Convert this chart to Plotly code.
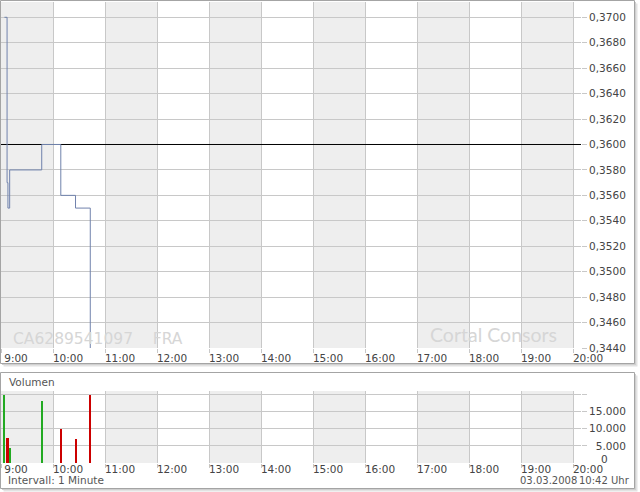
import plotly.graph_objects as go

# ---------------- data ----------------
trade_day = "2008-03-03"
trade_times = ["09:04", "09:07", "09:08", "09:10", "09:47", "10:09", "10:26", "10:43"]
prices = [0.3700, 0.3570, 0.3550, 0.3580, 0.3600, 0.3560, 0.3550, 0.3400]
volumes = [20000, 7200, 7200, 4300, 18000, 10000, 7000, 20000]
prev_close = 0.3600

hour_labels = ["9:00", "10:00", "11:00", "12:00", "13:00", "14:00", "15:00",
               "16:00", "17:00", "18:00", "19:00", "20:00"]
vol_tick_vals = [5000, 10000, 15000, 20000]
vol_tick_text = ["\u20075.000", "10.000", "15.000", ""]

isin_text = "CA6289541097    FRA"
brand_text = "Cortal Consors"
date_text = "03.03.2008"
time_text = "10:42 Uhr"
interval_text = "Intervall: 1 Minute"
volume_title = "Volumen"

# ---------------- derived ----------------
W, H = 640, 492
x_times = [f"{trade_day} {t}" for t in trade_times]
x_start = f"{trade_day} 09:00"
x_end = f"{trade_day} 20:09:14"
hour_vals = [f"{trade_day} {h:02d}:00" for h in range(9, 21)]

UP, DOWN = "#22AA22", "#CC0000"
vol_colors = []
prev = prev_close
for p in prices:
    vol_colors.append(UP if p >= prev else DOWN)
    prev = p

def px_x(x):
    return x / W

def px_y(y):
    return 1 - y / H

FONT = "DejaVu Sans"
GRID = "#C8C8C8"
BAND = "#EEEEEE"
TXT = "#444444"

fig = go.Figure()

# reference (previous close) line
fig.add_trace(go.Scatter(x=[x_start, x_end], y=[prev_close, prev_close], mode="lines",
                         line=dict(color="#000000", width=1), hoverinfo="skip",
                         showlegend=False, xaxis="x", yaxis="y"))
# price step line
fig.add_trace(go.Scatter(x=x_times, y=prices, mode="lines",
                         line=dict(color="#7082AC", width=1, shape="hv"),
                         showlegend=False, xaxis="x", yaxis="y"))
# volume bars
fig.add_trace(go.Bar(x=x_times, y=volumes, marker=dict(color=vol_colors, line=dict(width=0)),
                     width=69000, showlegend=False, xaxis="x2", yaxis="y2"))

shapes = []
# panel shadows and frames
for (x0, y0, x1, y1) in [(0.5, 0.5, 634.5, 363.5), (0.5, 372.5, 634.5, 488.5)]:
    shapes.append(dict(type="rect", xref="paper", yref="paper", layer="below",
                       x0=px_x(x0 + 3), x1=px_x(x1 + 3), y0=px_y(y0 + 3), y1=px_y(y1 + 3),
                       fillcolor="#E2E2E2", line=dict(width=0)))
    shapes.append(dict(type="rect", xref="paper", yref="paper", layer="below",
                       x0=px_x(x0 + 1.5), x1=px_x(x1 + 1.5), y0=px_y(y0 + 1.5), y1=px_y(y1 + 1.5),
                       fillcolor="#CFCFCF", line=dict(width=0)))
    shapes.append(dict(type="rect", xref="paper", yref="paper", layer="below",
                       x0=px_x(x0), x1=px_x(x1), y0=px_y(y0), y1=px_y(y1),
                       fillcolor="#FFFFFF", line=dict(color="#A4A4A4", width=1)))
# alternating hour bands
for i in range(0, len(hour_vals) - 1, 2):
    for xr, yr in [("x", "y domain"), ("x2", "y2 domain")]:
        shapes.append(dict(type="rect", xref=xr, yref=yr, layer="below",
                           x0=hour_vals[i], x1=hour_vals[i + 1], y0=0, y1=1,
                           fillcolor=BAND, line=dict(width=0)))

xdom = [px_x(1), px_x(581)]
axis_common = dict(type="date", range=[x_start, x_end], tickvals=hour_vals, ticktext=hour_labels,
                   showgrid=True, gridcolor=GRID, gridwidth=1, zeroline=False, showline=False,
                   ticks="outside", ticklen=4, tickcolor=GRID, ticklabelshift=15,
                   automargin=False,
                   tickfont=dict(family=FONT, size=10.5, color=TXT), domain=xdom)

fig.update_layout(
    template="none",
    width=W, height=H, margin=dict(l=0, r=0, t=0, b=0, pad=0),
    paper_bgcolor="white", plot_bgcolor="white", separators=",.",
    showlegend=False, bargap=0, shapes=shapes,
    xaxis=dict(anchor="y", ticklabelstandoff=-4, **axis_common),
    xaxis2=dict(anchor="y2", ticklabelstandoff=-8, **axis_common),
    yaxis=dict(anchor="x", side="right", domain=[px_y(348), px_y(2)], range=[0.3440, 0.371203],
               tick0=0.3440, dtick=0.0020, tickformat=".4f", automargin=False,
               showgrid=True, gridcolor=GRID, gridwidth=1, zeroline=False, showline=False,
               ticks="outside", ticklen=5, tickcolor=GRID,
               tickfont=dict(family=FONT, size=10.5, color=TXT)),
    yaxis2=dict(anchor="x2", side="right", domain=[px_y(463), px_y(391)], range=[0, 21050],
                tickvals=vol_tick_vals, ticktext=vol_tick_text, automargin=False,
                showgrid=True, gridcolor=GRID, gridwidth=1, zeroline=False, showline=False,
                ticks="outside", ticklen=5, tickcolor=GRID,
                tickfont=dict(family=FONT, size=10.5, color=TXT)),
    annotations=[
        dict(text=isin_text, xref="paper", yref="paper", x=px_x(11), y=px_y(339),
             xanchor="left", yanchor="middle", showarrow=False,
             font=dict(family=FONT, size=15.5, color="#D6D6D6")),
        dict(text=brand_text, xref="paper", yref="paper", x=px_x(428), y=px_y(334),
             xanchor="left", yanchor="middle", showarrow=False,
             font=dict(family="Lato", size=19.5, color="#D6D6D6")),
        dict(text=volume_title, xref="paper", yref="paper", x=px_x(7), y=px_y(382),
             xanchor="left", yanchor="middle", showarrow=False,
             font=dict(family=FONT, size=10.5, color="#555555")),
        dict(text=interval_text, xref="paper", yref="paper", x=px_x(6), y=px_y(480),
             xanchor="left", yanchor="middle", showarrow=False,
             font=dict(family=FONT, size=10.5, color="#555555")),
        dict(text=date_text, xref="paper", yref="paper", x=px_x(579), y=px_y(480),
             xanchor="right", yanchor="middle", showarrow=False,
             font=dict(family=FONT, size=10, color="#555555")),
        dict(text=time_text, xref="paper", yref="paper", x=px_x(632), y=px_y(480),
             xanchor="right", yanchor="middle", showarrow=False,
             font=dict(family=FONT, size=10, color="#555555")),
        dict(text="0", xref="paper", yref="paper", x=px_x(599), y=px_y(459),
             xanchor="left", yanchor="middle", showarrow=False,
             font=dict(family=FONT, size=10.5, color=TXT)),
    ],
)

fig.write_html("out.html", config={"displayModeBar": False},
               post_script="document.body.style.margin='0px';document.body.style.overflow='hidden';")
